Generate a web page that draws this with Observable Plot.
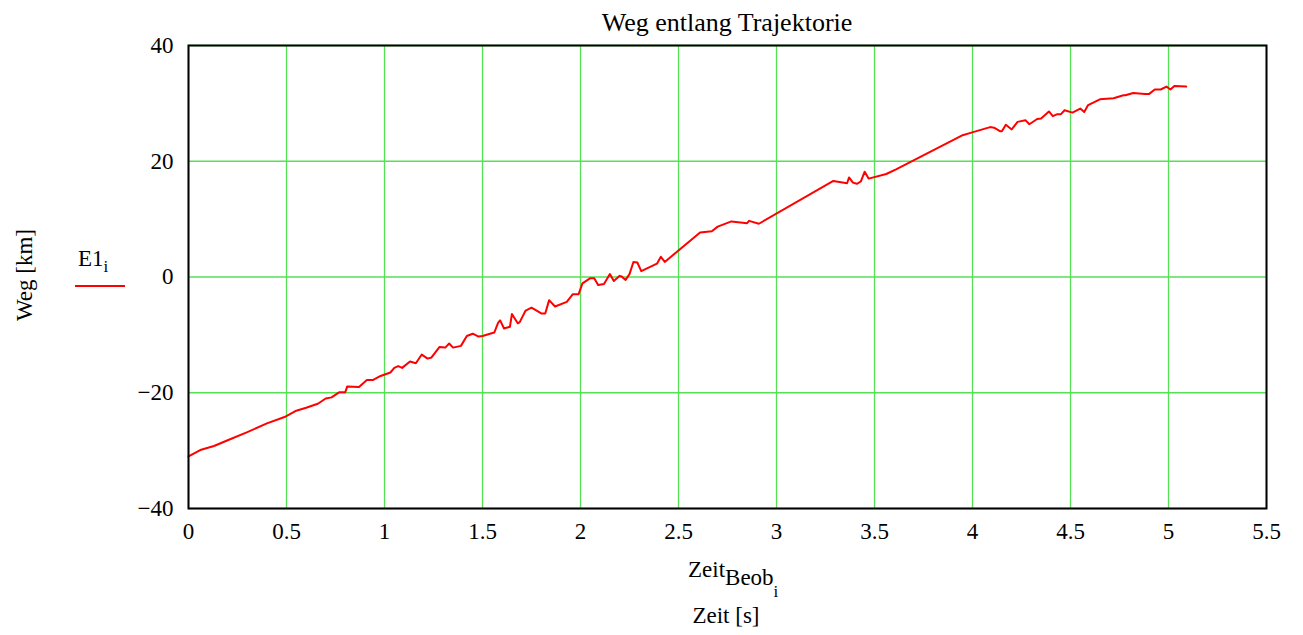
<!DOCTYPE html>
<html><head><meta charset="utf-8">
<script src="https://cdn.jsdelivr.net/npm/d3@7"></script>
<script src="https://cdn.jsdelivr.net/npm/@observablehq/plot@0.6"></script>
<style>body{margin:0;background:#fff} svg{display:block}</style>
</head><body><div id="chart"></div>
<script>
const zeit = [0,0.06,0.13,0.2,0.3,0.4,0.49,0.55,0.6,0.66,0.70,0.73,0.77,0.80,0.81,0.87,0.91,0.94,0.98,1.03,1.05,1.07,1.09,1.13,1.16,1.19,1.22,1.24,1.28,1.31,1.33,1.35,1.39,1.42,1.45,1.48,1.50,1.56,1.58,1.59,1.61,1.64,1.65,1.68,1.69,1.72,1.75,1.80,1.82,1.84,1.87,1.93,1.96,1.99,2.01,2.05,2.07,2.09,2.12,2.15,2.17,2.20,2.21,2.23,2.25,2.27,2.29,2.31,2.39,2.41,2.43,2.61,2.67,2.70,2.77,2.85,2.86,2.91,3.29,3.36,3.37,3.39,3.41,3.43,3.45,3.47,3.56,3.61,3.95,3.99,4.09,4.11,4.14,4.15,4.17,4.20,4.23,4.27,4.29,4.33,4.35,4.39,4.41,4.43,4.45,4.47,4.51,4.55,4.57,4.59,4.65,4.72,4.77,4.78,4.82,4.88,4.90,4.93,4.96,4.99,5.01,5.03,5.09];
const weg = [-31.0,-29.9,-29.2,-28.2,-26.8,-25.3,-24.2,-23.1,-22.6,-21.9,-21.0,-20.8,-19.9,-19.9,-18.9,-19.0,-17.8,-17.8,-17.1,-16.5,-15.7,-15.4,-15.7,-14.6,-14.9,-13.4,-14.1,-13.9,-12.1,-12.2,-11.5,-12.2,-11.9,-10.2,-9.8,-10.3,-10.2,-9.6,-7.9,-7.5,-8.9,-8.6,-6.4,-8.0,-7.8,-5.8,-5.3,-6.3,-6.3,-4.0,-5.1,-4.3,-3.0,-3.0,-1.1,-0.2,-0.2,-1.4,-1.2,0.5,-0.7,0.2,0.1,-0.5,0.5,2.6,2.5,1.0,2.3,3.5,2.6,7.7,7.9,8.7,9.6,9.3,9.7,9.2,16.6,16.2,17.2,16.3,16.1,16.5,18.2,17.0,17.8,18.6,24.5,24.9,25.9,25.8,25.2,25.2,26.3,25.5,26.8,27.1,26.4,27.3,27.4,28.6,27.8,28.1,28.1,28.8,28.4,29.1,28.5,29.7,30.7,30.9,31.4,31.4,31.8,31.6,31.6,32.4,32.4,32.9,32.4,33.0,32.9];
const xTicks = [0,0.5,1,1.5,2,2.5,3,3.5,4,4.5,5,5.5];
const yTicks = [-40,-20,0,20,40];
const title = "Weg entlang Trajektorie";
const seriesName = "E1";

const data = zeit.map((t, i) => ({t, v: weg[i]}));
const grid = "#55e055";
const fmtY = d => d < 0 ? "\u2212" + Math.abs(d) : String(d);
const ff = "'Liberation Serif', 'Times New Roman', serif";

const chart = Plot.plot({
  width: 1303, height: 635,
  marginLeft: 188, marginRight: 37, marginTop: 45, marginBottom: 127,
  style: {fontFamily: ff, fontSize: "23px", background: "white", color: "black"},
  x: {domain: [0, 5.5]},
  y: {domain: [-40, 40]},
  marks: [
    Plot.gridX(xTicks, {stroke: grid, strokeOpacity: 1, strokeWidth: 1.3}),
    Plot.gridY(yTicks, {stroke: grid, strokeOpacity: 1, strokeWidth: 1.3}),
    Plot.line(data, {x: "t", y: "v", stroke: "red", strokeWidth: 2}),
    Plot.frame({stroke: "black", strokeWidth: 2}),
    Plot.axisX(xTicks, {tickSize: 0, tickPadding: 14, label: null, tickFormat: d => String(d), fontSize: 23}),
    Plot.axisY(yTicks, {tickSize: 0, tickPadding: 15, label: null, tickFormat: fmtY, fontSize: 23})
  ]
});
document.getElementById("chart").append(chart);

const svg = d3.select(chart);
svg.append("text").attr("x", 727).attr("y", 31).attr("text-anchor", "middle")
  .attr("font-family", ff).attr("font-size", 26).text(title);

// legend
const lg = svg.append("text").attr("x", 78).attr("y", 266).attr("text-anchor", "start")
  .attr("font-family", ff).attr("font-size", 23);
lg.append("tspan").text(seriesName);
lg.append("tspan").attr("dy", 6).attr("font-size", 17).text("i");
svg.append("line").attr("x1", 75).attr("x2", 125).attr("y1", 286).attr("y2", 286)
  .attr("stroke", "red").attr("stroke-width", 2);

// y label
svg.append("text").attr("transform", "translate(32,275) rotate(-90)").attr("text-anchor", "middle")
  .attr("font-family", ff).attr("font-size", 23).text("Weg [km]");

// x label
const xl = svg.append("text").attr("x", 688).attr("y", 577).attr("text-anchor", "start")
  .attr("font-family", ff).attr("font-size", 23);
xl.append("tspan").text("Zeit");
xl.append("tspan").attr("dy", 8).text("Beob");
xl.append("tspan").attr("dy", 12).attr("font-size", 17).text("i");
svg.append("text").attr("x", 726).attr("y", 623).attr("text-anchor", "middle")
  .attr("font-family", ff).attr("font-size", 23).text("Zeit [s]");
</script>
</body></html>
